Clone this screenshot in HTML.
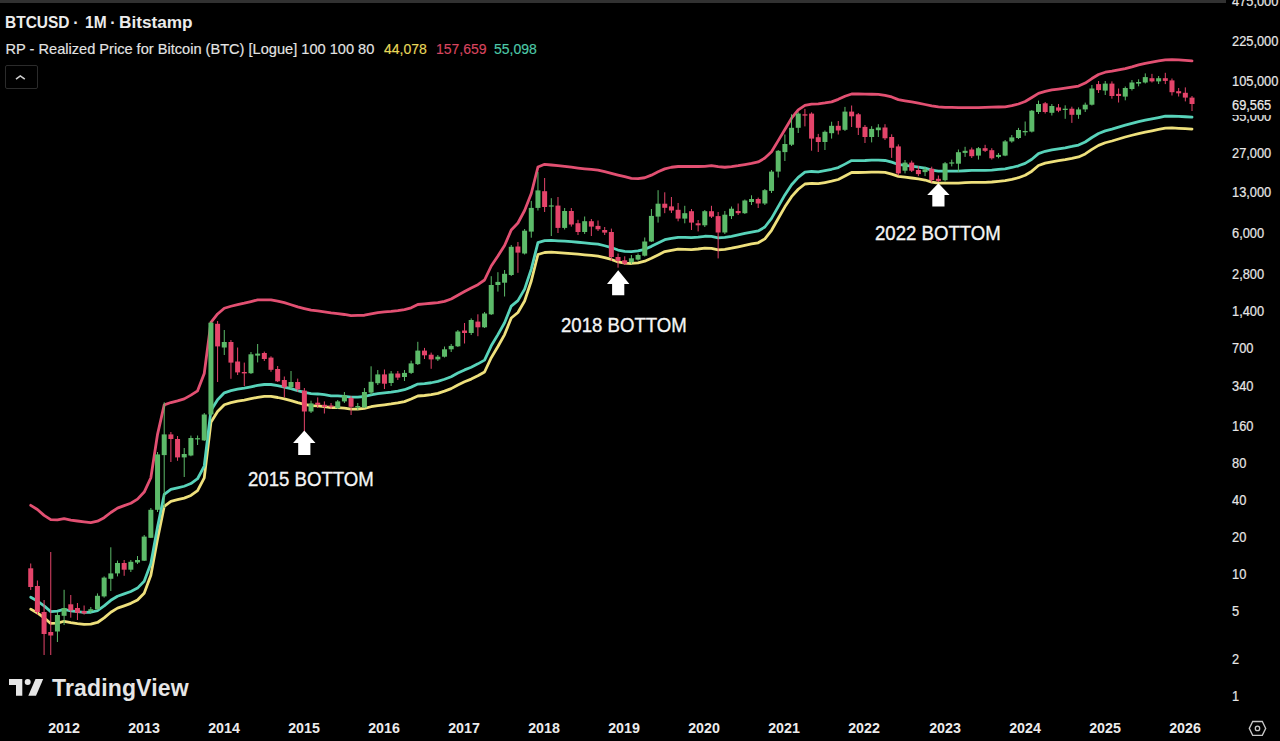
<!DOCTYPE html>
<html><head><meta charset="utf-8"><style>
html,body{margin:0;padding:0;background:#000;}
body{width:1280px;height:741px;position:relative;overflow:hidden;font-family:"Liberation Sans",sans-serif;color:#e8e8e8;}
.topbar{position:absolute;left:0;top:0;width:1226px;height:2.8px;background:#313131;}
.t1{position:absolute;left:0;top:13px;font-size:16px;font-weight:bold;color:#ececec;white-space:nowrap;line-height:20px;}
.t1 span{position:absolute;top:0;transform-origin:0 0;}
.t2{position:absolute;-webkit-text-stroke:0.15px currentColor;left:5.5px;top:40px;font-size:14.6px;color:#e4e4e4;white-space:nowrap;line-height:18px;}
.t2 span{position:absolute;top:0;font-size:14px;}
.btn{position:absolute;left:4.5px;top:64.7px;width:33.3px;height:24.3px;border:1.5px solid #2b2b2b;border-radius:2px;box-sizing:border-box;}
.yl{position:absolute;left:1232px;-webkit-text-stroke:0.2px #e6e6e6;font-size:13.8px;line-height:16px;color:#e6e6e6;white-space:nowrap;transform:scaleX(0.93);transform-origin:0 0;}
.xl{position:absolute;top:718.5px;width:60px;text-align:center;font-size:15px;font-weight:bold;color:#ececec;line-height:18px;transform:scaleX(0.95);}
.cur{position:absolute;left:1229px;top:93.5px;width:51px;height:21px;background:#000;}
.curt{position:absolute;-webkit-text-stroke:0.2px #ececec;left:1232px;top:97.5px;transform:scaleX(0.93);transform-origin:0 0;font-size:13.8px;line-height:16px;color:#ececec;}
.lbl{position:absolute;font-size:20px;color:#f4f4f4;-webkit-text-stroke:0.35px #f4f4f4;white-space:nowrap;line-height:24px;transform-origin:0 0;}
.tvtext{position:absolute;left:52px;top:674.3px;letter-spacing:0.15px;font-size:23px;font-weight:bold;color:#e6e6e6;line-height:28px;white-space:nowrap;}
</style></head><body>
<div class="topbar"></div>
<svg width="1280" height="741" viewBox="0 0 1280 741" style="position:absolute;left:0;top:0">
<path d="M30.73,505.34 L37.40,509.55 L44.08,515.41 L50.75,519.65 L57.43,519.91 L64.10,518.74 L70.77,520.03 L77.45,521.01 L84.12,521.87 L90.80,522.60 L97.47,521.21 L104.14,517.69 L110.82,512.48 L117.49,508.13 L124.17,505.62 L130.84,503.30 L137.51,499.15 L144.19,492.08 L150.86,477.74 L157.54,434.33 L164.21,404.88 L170.88,402.55 L177.56,400.80 L184.23,398.88 L190.91,395.10 L197.58,390.86 L204.25,373.51 L210.93,322.33 L217.60,313.94 L224.28,308.22 L230.95,306.25 L237.62,304.63 L244.30,303.21 L250.97,301.60 L257.65,299.89 L264.32,299.80 L270.99,299.80 L277.67,301.21 L284.34,302.67 L291.02,304.73 L297.69,306.81 L304.36,308.58 L311.04,310.22 L317.71,310.95 L324.39,311.90 L331.06,312.91 L337.73,313.59 L344.41,314.49 L351.08,315.70 L357.76,315.46 L364.43,315.23 L371.10,313.89 L377.78,312.53 L384.45,311.96 L391.13,311.39 L397.80,310.58 L404.47,309.53 L411.15,307.85 L417.82,304.50 L424.50,303.87 L431.17,303.25 L437.84,302.62 L444.52,301.36 L451.19,298.95 L457.87,295.18 L464.54,291.55 L471.21,287.99 L477.89,284.66 L484.56,280.00 L491.24,266.00 L497.91,256.00 L504.58,245.50 L511.26,230.00 L517.93,223.00 L524.61,210.50 L531.28,193.50 L537.95,167.00 L544.63,164.30 L551.30,165.01 L557.98,165.66 L564.65,166.36 L571.32,167.20 L578.00,168.05 L584.67,168.77 L591.35,169.44 L598.02,170.11 L604.69,171.67 L611.37,173.37 L618.04,175.06 L624.72,176.69 L631.39,178.33 L638.06,178.70 L644.74,177.75 L651.41,175.15 L658.09,171.83 L664.76,168.89 L671.43,167.25 L678.11,166.50 L684.78,166.50 L691.46,166.50 L698.13,166.50 L704.80,166.29 L711.48,165.58 L718.15,166.69 L724.83,167.24 L731.50,166.58 L738.17,165.66 L744.85,164.57 L751.52,163.36 L758.20,161.98 L764.87,158.04 L771.54,151.67 L778.22,140.60 L784.89,129.45 L791.57,118.24 L798.24,109.93 L804.91,105.46 L811.59,104.12 L818.26,103.85 L824.94,102.93 L831.61,101.86 L838.28,99.34 L844.96,96.30 L851.63,94.00 L858.31,94.00 L864.98,94.06 L871.65,94.24 L878.33,94.47 L885.00,95.36 L891.68,96.93 L898.35,99.60 L905.02,100.76 L911.70,101.86 L918.37,103.09 L925.05,104.50 L931.72,105.79 L938.39,106.91 L945.07,107.32 L951.74,107.47 L958.42,107.60 L965.09,107.60 L971.76,107.60 L978.44,107.60 L985.11,107.43 L991.79,107.22 L998.46,107.00 L1005.13,106.79 L1011.81,105.69 L1018.48,104.01 L1025.16,101.53 L1031.83,97.49 L1038.50,93.36 L1045.18,91.38 L1051.85,89.96 L1058.53,89.02 L1065.20,88.18 L1071.87,87.19 L1078.55,86.08 L1085.22,83.05 L1091.90,78.57 L1098.57,74.54 L1105.24,72.24 L1111.92,71.24 L1118.59,69.98 L1125.27,68.65 L1131.94,66.84 L1138.61,64.86 L1145.29,63.34 L1151.96,62.01 L1158.64,60.91 L1165.31,59.92 L1171.98,59.73 L1178.66,59.93 L1185.33,60.32 L1192.01,60.82" fill="none" stroke="#e25072" stroke-width="2.8" stroke-linejoin="round" stroke-linecap="round"/>
<path d="M30.73,609.14 L37.40,612.98 L44.08,617.76 L50.75,623.47 L57.43,623.11 L64.10,621.27 L70.77,622.72 L77.45,623.63 L84.12,624.34 L90.80,624.15 L97.47,622.48 L104.14,617.84 L110.82,612.21 L117.49,608.15 L124.17,605.82 L130.84,603.36 L137.51,600.01 L144.19,593.22 L150.86,575.30 L157.54,538.95 L164.21,506.38 L170.88,501.30 L177.56,499.73 L184.23,498.16 L190.91,495.46 L197.58,490.64 L204.25,477.94 L210.93,422.34 L217.60,411.58 L224.28,404.72 L230.95,402.59 L237.62,401.12 L244.30,400.06 L250.97,398.71 L257.65,397.31 L264.32,396.40 L270.99,396.40 L277.67,397.50 L284.34,398.92 L291.02,400.60 L297.69,402.59 L304.36,404.37 L311.04,405.60 L317.71,405.88 L324.39,406.57 L331.06,407.70 L337.73,407.70 L344.41,408.18 L351.08,409.09 L357.76,408.99 L364.43,408.40 L371.10,406.74 L377.78,405.62 L384.45,404.83 L391.13,403.97 L397.80,402.96 L404.47,401.63 L411.15,399.03 L417.82,395.98 L424.50,395.49 L431.17,394.65 L437.84,393.31 L444.52,391.17 L451.19,388.61 L457.87,384.94 L464.54,381.81 L471.21,379.09 L477.89,375.76 L484.56,372.00 L491.24,357.70 L497.91,346.50 L504.58,334.60 L511.26,318.00 L517.93,312.50 L524.61,301.00 L531.28,281.00 L537.95,254.50 L544.63,252.50 L551.30,252.20 L557.98,252.70 L564.65,253.10 L571.32,253.62 L578.00,254.14 L584.67,254.77 L591.35,255.44 L598.02,256.11 L604.69,257.64 L611.37,259.45 L618.04,261.95 L624.72,263.22 L631.39,263.48 L638.06,262.87 L644.74,261.23 L651.41,258.27 L658.09,254.96 L664.76,251.62 L671.43,250.38 L678.11,249.22 L684.78,249.37 L691.46,249.55 L698.13,249.00 L704.80,248.17 L711.48,248.36 L718.15,249.85 L724.83,249.32 L731.50,248.18 L738.17,246.84 L744.85,245.35 L751.52,243.94 L758.20,242.82 L764.87,238.91 L771.54,230.29 L778.22,218.52 L784.89,206.83 L791.57,196.68 L798.24,189.26 L804.91,184.01 L811.59,183.38 L818.26,183.72 L824.94,182.51 L831.61,181.16 L838.28,179.49 L844.96,176.03 L851.63,172.50 L858.31,172.50 L864.98,172.38 L871.65,172.06 L878.33,172.06 L885.00,172.38 L891.68,174.07 L898.35,176.35 L905.02,177.18 L911.70,178.00 L918.37,178.99 L925.05,180.01 L931.72,182.08 L938.39,183.10 L945.07,183.10 L951.74,183.10 L958.42,183.10 L965.09,182.64 L971.76,182.30 L978.44,182.30 L985.11,182.30 L991.79,182.01 L998.46,181.34 L1005.13,180.67 L1011.81,179.39 L1018.48,177.71 L1025.16,175.23 L1031.83,171.19 L1038.50,165.51 L1045.18,163.18 L1051.85,161.76 L1058.53,160.67 L1065.20,159.66 L1071.87,158.39 L1078.55,156.93 L1085.22,153.93 L1091.90,149.40 L1098.57,145.34 L1105.24,142.76 L1111.92,141.02 L1118.59,139.02 L1125.27,137.02 L1131.94,135.26 L1138.61,133.57 L1145.29,132.14 L1151.96,130.81 L1158.64,129.47 L1165.31,128.14 L1171.98,127.93 L1178.66,128.28 L1185.33,128.65 L1192.01,129.04" fill="none" stroke="#eee07c" stroke-width="2.8" stroke-linejoin="round" stroke-linecap="round"/>
<path d="M30.73,597.24 L37.40,601.08 L44.08,605.86 L50.75,611.57 L57.43,611.21 L64.10,609.37 L70.77,610.82 L77.45,611.73 L84.12,612.44 L90.80,612.25 L97.47,610.58 L104.14,605.94 L110.82,600.31 L117.49,596.25 L124.17,593.92 L130.84,591.46 L137.51,588.11 L144.19,581.32 L150.86,563.40 L157.54,527.05 L164.21,494.48 L170.88,489.40 L177.56,487.83 L184.23,486.26 L190.91,483.56 L197.58,478.74 L204.25,466.04 L210.93,410.44 L217.60,399.68 L224.28,392.82 L230.95,390.69 L237.62,389.22 L244.30,388.16 L250.97,386.81 L257.65,385.41 L264.32,384.50 L270.99,384.50 L277.67,385.60 L284.34,387.02 L291.02,388.70 L297.69,390.69 L304.36,392.47 L311.04,393.70 L317.71,393.98 L324.39,394.67 L331.06,395.80 L337.73,395.80 L344.41,396.28 L351.08,397.19 L357.76,397.09 L364.43,396.50 L371.10,394.84 L377.78,393.72 L384.45,392.93 L391.13,392.07 L397.80,391.06 L404.47,389.73 L411.15,387.13 L417.82,384.08 L424.50,383.59 L431.17,382.75 L437.84,381.41 L444.52,379.27 L451.19,376.71 L457.87,373.04 L464.54,369.91 L471.21,367.19 L477.89,363.86 L484.56,360.10 L491.24,345.80 L497.91,334.60 L504.58,322.70 L511.26,306.10 L517.93,300.60 L524.61,289.10 L531.28,269.10 L537.95,242.60 L544.63,240.60 L551.30,240.30 L557.98,240.80 L564.65,241.20 L571.32,241.72 L578.00,242.24 L584.67,242.87 L591.35,243.54 L598.02,244.21 L604.69,245.74 L611.37,247.55 L618.04,250.05 L624.72,251.32 L631.39,251.58 L638.06,250.97 L644.74,249.33 L651.41,246.37 L658.09,243.06 L664.76,239.72 L671.43,238.48 L678.11,237.32 L684.78,237.47 L691.46,237.65 L698.13,237.10 L704.80,236.27 L711.48,236.46 L718.15,237.95 L724.83,237.42 L731.50,236.28 L738.17,234.94 L744.85,233.45 L751.52,232.04 L758.20,230.92 L764.87,227.01 L771.54,218.39 L778.22,206.62 L784.89,194.93 L791.57,184.78 L798.24,177.36 L804.91,172.11 L811.59,171.48 L818.26,171.82 L824.94,170.61 L831.61,169.26 L838.28,167.59 L844.96,164.13 L851.63,160.60 L858.31,160.60 L864.98,160.48 L871.65,160.16 L878.33,160.16 L885.00,160.48 L891.68,162.17 L898.35,164.45 L905.02,165.28 L911.70,166.10 L918.37,167.09 L925.05,168.11 L931.72,170.18 L938.39,171.20 L945.07,171.20 L951.74,171.20 L958.42,171.20 L965.09,170.74 L971.76,170.40 L978.44,170.40 L985.11,170.40 L991.79,170.11 L998.46,169.44 L1005.13,168.77 L1011.81,167.49 L1018.48,165.81 L1025.16,163.33 L1031.83,159.29 L1038.50,153.61 L1045.18,151.28 L1051.85,149.86 L1058.53,148.77 L1065.20,147.76 L1071.87,146.49 L1078.55,145.03 L1085.22,142.03 L1091.90,137.50 L1098.57,133.44 L1105.24,130.86 L1111.92,129.12 L1118.59,127.12 L1125.27,125.12 L1131.94,123.36 L1138.61,121.67 L1145.29,120.24 L1151.96,118.91 L1158.64,117.57 L1165.31,116.24 L1171.98,116.03 L1178.66,116.38 L1185.33,116.75 L1192.01,117.14" fill="none" stroke="#58d3ba" stroke-width="2.8" stroke-linejoin="round" stroke-linecap="round"/>
<path d="M57.43,612.00V642.00M64.10,589.80V625.00M90.80,607.00V613.00M97.47,593.40V610.00M104.14,576.40V597.60M110.82,547.30V591.00M117.49,560.60V576.40M130.84,560.00V572.00M137.51,556.00V564.00M144.19,535.00V561.00M150.86,508.00V538.00M157.54,452.00V512.00M164.21,402.30V508.00M184.23,448.00V477.00M190.91,435.60V456.30M197.58,435.50V445.00M204.25,413.00V441.00M210.93,321.60V416.00M224.28,330.00V355.00M250.97,352.00V374.00M257.65,344.00V362.40M291.02,371.00V389.30M311.04,400.70V413.00M337.73,400.00V409.00M344.41,392.00V403.00M357.76,403.00V410.00M364.43,388.00V408.00M371.10,366.30V395.00M377.78,370.00V385.00M391.13,371.00V386.00M404.47,370.00V381.00M411.15,360.70V374.00M417.82,341.80V365.00M437.84,355.00V361.00M444.52,346.50V357.50M451.19,344.00V352.00M457.87,330.00V347.00M471.21,318.40V335.00M484.56,312.00V328.00M491.24,276.20V315.00M497.91,272.20V291.60M504.58,270.00V296.50M511.26,245.00V276.00M524.61,229.00V254.50M531.28,200.90V237.70M537.95,172.00V210.50M551.30,198.20V236.00M564.65,208.00V229.50M584.67,216.50V233.90M631.39,255.00V264.00M638.06,253.50V260.50M644.74,237.50V256.50M651.41,209.00V242.00M658.09,190.20V222.60M684.78,205.80V223.30M704.80,210.00V227.00M724.83,211.00V234.00M731.50,206.50V219.00M744.85,199.50V214.00M751.52,195.30V205.00M764.87,189.00V205.00M771.54,170.00V193.00M778.22,150.00V177.50M784.89,134.50V161.00M791.57,114.30V146.00M798.24,112.30V133.00M824.94,130.50V150.00M831.61,121.70V138.60M844.96,106.90V131.00M871.65,126.20V142.40M878.33,124.20V137.00M905.02,160.00V173.40M925.05,166.70V176.10M945.07,162.00V181.50M951.74,159.60V166.40M958.42,149.50V172.00M965.09,146.80V156.90M978.44,147.00V159.60M998.46,153.00V158.30M1005.13,140.00V156.20M1011.81,135.00V142.70M1018.48,127.90V139.00M1025.16,121.50V135.70M1031.83,110.00V132.50M1038.50,100.60V114.00M1051.85,104.00V115.50M1065.20,105.30V118.80M1078.55,107.40V118.80M1085.22,102.60V112.00M1091.90,85.00V105.50M1105.24,81.00V95.00M1125.27,86.50V100.30M1131.94,80.00V90.50M1138.61,79.30V86.30M1145.29,73.40V83.50M1158.64,76.00V84.00" stroke="#5cba69" stroke-width="1" fill="none"/>
<path d="M30.73,563.50V590.00M37.40,580.50V615.00M44.08,600.00V655.00M50.75,552.00V655.00M70.77,595.00V617.70M77.45,603.00V620.00M84.12,605.50V614.60M124.17,560.00V575.80M170.88,432.00V462.00M177.56,436.00V460.80M217.60,321.00V382.00M230.95,340.00V378.80M237.62,347.50V375.00M244.30,362.60V386.00M264.32,351.60V361.00M270.99,356.30V371.80M277.67,366.00V382.00M284.34,376.50V397.40M297.69,378.60V392.00M304.36,388.00V433.00M317.71,397.40V408.00M324.39,401.40V413.50M331.06,403.00V409.00M351.08,396.00V415.00M384.45,369.50V389.00M397.80,371.00V380.00M424.50,347.90V359.00M431.17,352.60V368.80M464.54,323.00V343.50M477.89,314.30V336.20M517.93,242.00V272.80M544.63,178.00V212.00M557.98,197.00V233.00M571.32,208.00V226.60M578.00,219.80V235.00M591.35,219.00V236.00M598.02,220.50V231.00M604.69,227.00V235.00M611.37,228.60V261.00M618.04,253.50V267.70M624.72,256.30V265.00M664.76,192.30V213.20M671.43,197.00V213.00M678.11,203.00V221.30M691.46,209.00V230.00M698.13,220.00V231.40M711.48,205.80V218.00M718.15,212.00V258.40M738.17,203.50V215.00M758.20,197.60V208.00M804.91,108.90V126.40M811.59,112.30V150.70M818.26,133.90V152.00M838.28,121.00V134.50M851.63,105.50V127.00M858.31,113.00V135.00M864.98,125.00V143.00M885.00,124.20V140.00M891.68,134.30V157.90M898.35,144.40V175.50M911.70,160.60V172.00M918.37,166.00V176.10M931.72,166.70V182.50M938.39,175.50V182.00M971.76,147.50V158.00M985.11,144.80V152.00M991.79,148.20V159.60M1045.18,102.00V113.50M1058.53,104.00V112.20M1071.87,106.70V122.90M1098.57,81.00V93.00M1111.92,81.40V98.70M1118.59,88.50V102.50M1151.96,73.90V82.50M1165.31,72.80V84.10M1171.98,78.50V95.50M1178.66,88.00V96.50M1185.33,87.40V101.40M1192.01,96.00V111.00" stroke="#e4446a" stroke-width="1" fill="none"/>
<g fill="#5cba69"><rect x="54.93" y="615.00" width="5" height="16.50"/><rect x="61.60" y="608.00" width="5" height="7.80"/><rect x="88.30" y="609.20" width="5" height="1.80"/><rect x="94.97" y="595.80" width="5" height="13.40"/><rect x="101.64" y="577.60" width="5" height="18.80"/><rect x="108.32" y="573.40" width="5" height="5.40"/><rect x="114.99" y="563.00" width="5" height="10.40"/><rect x="128.34" y="561.80" width="5" height="7.90"/><rect x="135.01" y="560.00" width="5" height="2.50"/><rect x="141.69" y="536.60" width="5" height="24.10"/><rect x="148.36" y="509.80" width="5" height="28.00"/><rect x="155.04" y="454.40" width="5" height="55.40"/><rect x="161.71" y="434.40" width="5" height="20.70"/><rect x="181.73" y="454.00" width="5" height="3.40"/><rect x="188.41" y="438.00" width="5" height="17.50"/><rect x="195.08" y="438.20" width="5" height="1.20"/><rect x="201.75" y="414.50" width="5" height="25.90"/><rect x="208.43" y="322.70" width="5" height="91.80"/><rect x="221.78" y="342.00" width="5" height="5.50"/><rect x="248.47" y="354.30" width="5" height="18.90"/><rect x="255.15" y="353.60" width="5" height="2.00"/><rect x="288.52" y="382.00" width="5" height="5.30"/><rect x="308.54" y="403.40" width="5" height="8.10"/><rect x="335.23" y="401.40" width="5" height="6.80"/><rect x="341.91" y="395.30" width="5" height="6.10"/><rect x="355.26" y="406.00" width="5" height="1.50"/><rect x="361.93" y="392.00" width="5" height="15.50"/><rect x="368.60" y="381.80" width="5" height="10.80"/><rect x="375.28" y="374.40" width="5" height="8.80"/><rect x="388.63" y="373.50" width="5" height="9.50"/><rect x="401.97" y="372.90" width="5" height="4.10"/><rect x="408.65" y="363.40" width="5" height="9.50"/><rect x="415.32" y="350.60" width="5" height="13.50"/><rect x="435.34" y="356.70" width="5" height="2.70"/><rect x="442.02" y="349.30" width="5" height="7.40"/><rect x="448.69" y="345.90" width="5" height="3.40"/><rect x="455.37" y="331.50" width="5" height="14.80"/><rect x="468.71" y="320.00" width="5" height="13.00"/><rect x="482.06" y="313.50" width="5" height="13.80"/><rect x="488.74" y="285.00" width="5" height="29.30"/><rect x="495.41" y="281.90" width="5" height="3.10"/><rect x="502.08" y="273.80" width="5" height="8.90"/><rect x="508.76" y="246.80" width="5" height="28.20"/><rect x="522.11" y="230.70" width="5" height="22.80"/><rect x="528.78" y="207.90" width="5" height="23.70"/><rect x="535.45" y="190.40" width="5" height="17.50"/><rect x="548.80" y="205.40" width="5" height="1.20"/><rect x="562.15" y="211.00" width="5" height="16.90"/><rect x="582.17" y="221.20" width="5" height="10.80"/><rect x="628.89" y="258.30" width="5" height="4.00"/><rect x="635.56" y="255.00" width="5" height="4.60"/><rect x="642.24" y="241.50" width="5" height="14.20"/><rect x="648.91" y="215.90" width="5" height="25.60"/><rect x="655.59" y="203.70" width="5" height="12.90"/><rect x="682.28" y="213.20" width="5" height="5.40"/><rect x="702.30" y="211.20" width="5" height="14.10"/><rect x="722.33" y="214.70" width="5" height="17.80"/><rect x="729.00" y="208.70" width="5" height="7.40"/><rect x="742.35" y="200.50" width="5" height="12.70"/><rect x="749.02" y="199.00" width="5" height="3.00"/><rect x="762.37" y="190.20" width="5" height="13.30"/><rect x="769.04" y="171.60" width="5" height="19.30"/><rect x="775.72" y="150.80" width="5" height="20.80"/><rect x="782.39" y="144.00" width="5" height="8.10"/><rect x="789.07" y="127.80" width="5" height="16.90"/><rect x="795.74" y="113.60" width="5" height="14.20"/><rect x="822.44" y="131.80" width="5" height="10.20"/><rect x="829.11" y="125.80" width="5" height="7.40"/><rect x="842.46" y="111.60" width="5" height="18.20"/><rect x="869.15" y="128.90" width="5" height="8.10"/><rect x="875.83" y="127.50" width="5" height="2.70"/><rect x="902.52" y="162.60" width="5" height="8.10"/><rect x="922.55" y="169.40" width="5" height="2.70"/><rect x="942.57" y="163.30" width="5" height="16.90"/><rect x="949.24" y="162.40" width="5" height="1.20"/><rect x="955.92" y="152.20" width="5" height="11.50"/><rect x="962.59" y="150.80" width="5" height="2.10"/><rect x="975.94" y="148.20" width="5" height="7.40"/><rect x="995.96" y="154.90" width="5" height="2.00"/><rect x="1002.63" y="141.40" width="5" height="14.20"/><rect x="1009.31" y="137.40" width="5" height="4.00"/><rect x="1015.98" y="130.00" width="5" height="8.00"/><rect x="1022.66" y="131.00" width="5" height="1.30"/><rect x="1029.33" y="110.70" width="5" height="20.90"/><rect x="1036.00" y="104.00" width="5" height="8.00"/><rect x="1049.35" y="106.00" width="5" height="6.80"/><rect x="1062.70" y="108.70" width="5" height="1.30"/><rect x="1076.05" y="109.40" width="5" height="5.40"/><rect x="1082.72" y="104.70" width="5" height="4.70"/><rect x="1089.40" y="88.50" width="5" height="16.20"/><rect x="1102.74" y="83.60" width="5" height="7.00"/><rect x="1122.77" y="88.00" width="5" height="8.60"/><rect x="1129.44" y="82.50" width="5" height="6.50"/><rect x="1136.11" y="82.00" width="5" height="1.60"/><rect x="1142.79" y="77.10" width="5" height="5.40"/><rect x="1156.14" y="78.20" width="5" height="3.20"/></g>
<g fill="#e4446a"><rect x="28.23" y="568.30" width="5" height="18.70"/><rect x="34.90" y="586.00" width="5" height="26.00"/><rect x="41.58" y="612.00" width="5" height="22.00"/><rect x="48.25" y="632.00" width="5" height="3.50"/><rect x="68.27" y="604.30" width="5" height="6.10"/><rect x="74.95" y="608.00" width="5" height="4.80"/><rect x="81.62" y="611.00" width="5" height="2.40"/><rect x="121.67" y="563.00" width="5" height="6.70"/><rect x="168.38" y="434.40" width="5" height="4.60"/><rect x="175.06" y="439.00" width="5" height="18.40"/><rect x="215.10" y="323.80" width="5" height="22.60"/><rect x="228.45" y="342.00" width="5" height="20.60"/><rect x="235.12" y="361.50" width="5" height="10.90"/><rect x="241.80" y="372.00" width="5" height="1.40"/><rect x="261.82" y="353.00" width="5" height="6.00"/><rect x="268.49" y="357.60" width="5" height="12.20"/><rect x="275.17" y="369.00" width="5" height="12.30"/><rect x="281.84" y="380.00" width="5" height="7.30"/><rect x="295.19" y="382.00" width="5" height="7.30"/><rect x="301.86" y="390.60" width="5" height="20.90"/><rect x="315.21" y="402.70" width="5" height="2.10"/><rect x="321.89" y="404.80" width="5" height="2.00"/><rect x="328.56" y="405.50" width="5" height="1.30"/><rect x="348.58" y="398.00" width="5" height="8.80"/><rect x="381.95" y="374.40" width="5" height="9.30"/><rect x="395.30" y="373.50" width="5" height="4.10"/><rect x="422.00" y="350.60" width="5" height="4.70"/><rect x="428.67" y="354.70" width="5" height="4.70"/><rect x="462.04" y="330.50" width="5" height="2.50"/><rect x="475.39" y="321.60" width="5" height="5.70"/><rect x="515.43" y="246.50" width="5" height="6.10"/><rect x="542.13" y="191.20" width="5" height="15.80"/><rect x="555.48" y="205.60" width="5" height="22.30"/><rect x="568.82" y="211.00" width="5" height="13.50"/><rect x="575.50" y="223.20" width="5" height="8.80"/><rect x="588.85" y="221.20" width="5" height="5.40"/><rect x="595.52" y="225.90" width="5" height="3.40"/><rect x="602.19" y="230.00" width="5" height="2.60"/><rect x="608.87" y="232.00" width="5" height="25.00"/><rect x="615.54" y="257.00" width="5" height="4.00"/><rect x="622.22" y="260.30" width="5" height="3.40"/><rect x="662.26" y="203.70" width="5" height="4.10"/><rect x="668.93" y="206.40" width="5" height="4.10"/><rect x="675.61" y="209.80" width="5" height="8.80"/><rect x="688.96" y="211.20" width="5" height="11.40"/><rect x="695.63" y="223.30" width="5" height="2.00"/><rect x="708.98" y="211.20" width="5" height="5.40"/><rect x="715.65" y="216.10" width="5" height="16.40"/><rect x="735.67" y="211.00" width="5" height="2.20"/><rect x="755.70" y="199.00" width="5" height="4.50"/><rect x="802.41" y="114.30" width="5" height="1.30"/><rect x="809.09" y="113.60" width="5" height="25.00"/><rect x="815.76" y="137.20" width="5" height="4.80"/><rect x="835.78" y="125.80" width="5" height="4.70"/><rect x="849.13" y="111.60" width="5" height="4.70"/><rect x="855.81" y="114.30" width="5" height="13.50"/><rect x="862.48" y="126.90" width="5" height="10.10"/><rect x="882.50" y="127.50" width="5" height="10.80"/><rect x="889.18" y="137.00" width="5" height="10.80"/><rect x="895.85" y="146.40" width="5" height="27.00"/><rect x="909.20" y="162.60" width="5" height="8.10"/><rect x="915.87" y="170.00" width="5" height="4.10"/><rect x="929.22" y="168.70" width="5" height="11.50"/><rect x="935.89" y="178.80" width="5" height="2.10"/><rect x="969.26" y="149.50" width="5" height="6.70"/><rect x="982.61" y="148.20" width="5" height="2.60"/><rect x="989.29" y="150.20" width="5" height="8.10"/><rect x="1042.68" y="103.30" width="5" height="8.70"/><rect x="1056.03" y="107.40" width="5" height="3.30"/><rect x="1069.37" y="108.70" width="5" height="6.10"/><rect x="1096.07" y="84.10" width="5" height="6.00"/><rect x="1109.42" y="83.60" width="5" height="12.40"/><rect x="1116.09" y="93.90" width="5" height="2.10"/><rect x="1149.46" y="78.20" width="5" height="3.20"/><rect x="1162.81" y="78.20" width="5" height="2.70"/><rect x="1169.48" y="80.40" width="5" height="11.80"/><rect x="1176.16" y="91.20" width="5" height="2.10"/><rect x="1182.83" y="92.80" width="5" height="4.80"/><rect x="1189.51" y="97.60" width="5" height="6.40"/></g>
<path d="M304.3,430.4 L315.5,443.0 L310.4,443.0 L310.4,455.0 L298.2,455.0 L298.2,443.0 L293.1,443.0 Z" fill="#fff"/>
<path d="M618.2,270.3 L629.4,284.0 L624.3,284.0 L624.3,295.2 L612.1,295.2 L612.1,284.0 L607.0,284.0 Z" fill="#fff"/>
<path d="M938.4,183.2 L949.6,194.9 L944.5,194.9 L944.5,206.6 L932.3,206.6 L932.3,194.9 L927.2,194.9 Z" fill="#fff"/>
<g transform="translate(1257.5,728.4)" fill="none" stroke="#c8c8c8" stroke-width="1.3"><path d="M-8.2,0 L-4.8,-6.9 L4.8,-6.9 L8.2,0 L4.8,6.9 L-4.8,6.9 Z"/><circle r="2.2"/></g>
<g fill="#e6e6e6"><path d="M9,679 H22.3 V695.8 H16 V685 H9 Z"/><circle cx="27.7" cy="681.9" r="3"/><path d="M35.5,679 H43.2 L36,695.8 H28.3 Z"/></g>
</svg>
<div class="t1"><span style="left:5.3px;transform:scaleX(0.968)">BTCUSD</span><span style="left:73.2px">&middot;</span><span style="left:84.9px;transform:scaleX(0.97)">1M</span><span style="left:110.2px">&middot;</span><span style="left:119.2px;transform:scaleX(1.075)">Bitstamp</span></div>
<div class="t2">RP - Realized Price for Bitcoin (BTC) [Logue] 100 100 80<span style="left:378.5px;color:#e8d85a">44,078</span><span style="left:430.5px;color:#d8455f">157,659</span><span style="left:488.5px;color:#4ec9a8">55,098</span></div>
<div class="btn"><svg width="29" height="20" style="position:absolute;left:0;top:0"><path d="M10,13.2 L14.3,9.9 L18.8,13.2" fill="none" stroke="#d0d0d0" stroke-width="1.6"/></svg></div>
<div class="yl" style="top:-6.2px">475,000</div>
<div class="yl" style="top:33.6px">225,000</div>
<div class="yl" style="top:74.1px">105,000</div>
<div class="yl" style="top:108.5px">55,000</div>
<div class="yl" style="top:146.4px">27,000</div>
<div class="yl" style="top:185.2px">13,000</div>
<div class="yl" style="top:226.4px">6,000</div>
<div class="yl" style="top:266.9px">2,800</div>
<div class="yl" style="top:303.8px">1,400</div>
<div class="yl" style="top:340.7px">700</div>
<div class="yl" style="top:379.1px">340</div>
<div class="yl" style="top:419.2px">160</div>
<div class="yl" style="top:456.1px">80</div>
<div class="yl" style="top:492.9px">40</div>
<div class="yl" style="top:529.8px">20</div>
<div class="yl" style="top:566.7px">10</div>
<div class="yl" style="top:603.6px">5</div>
<div class="yl" style="top:652.3px">2</div>
<div class="yl" style="top:689.2px">1</div>
<div class="cur"></div>
<div class="curt">69,565</div>
<div class="xl" style="left:33.5px">2012</div>
<div class="xl" style="left:113.6px">2013</div>
<div class="xl" style="left:193.7px">2014</div>
<div class="xl" style="left:273.8px">2015</div>
<div class="xl" style="left:353.9px">2016</div>
<div class="xl" style="left:433.9px">2017</div>
<div class="xl" style="left:514.0px">2018</div>
<div class="xl" style="left:594.1px">2019</div>
<div class="xl" style="left:674.2px">2020</div>
<div class="xl" style="left:754.3px">2021</div>
<div class="xl" style="left:834.4px">2022</div>
<div class="xl" style="left:914.5px">2023</div>
<div class="xl" style="left:994.6px">2024</div>
<div class="xl" style="left:1074.6px">2025</div>
<div class="xl" style="left:1154.7px">2026</div>
<div class="lbl" style="left:247.5px;top:467px;transform:scaleX(0.93)">2015 BOTTOM</div>
<div class="lbl" style="left:561px;top:312.5px;transform:scaleX(0.93)">2018 BOTTOM</div>
<div class="lbl" style="left:875px;top:221px;transform:scaleX(0.93)">2022 BOTTOM</div>
<div class="tvtext">TradingView</div>
</body></html>
